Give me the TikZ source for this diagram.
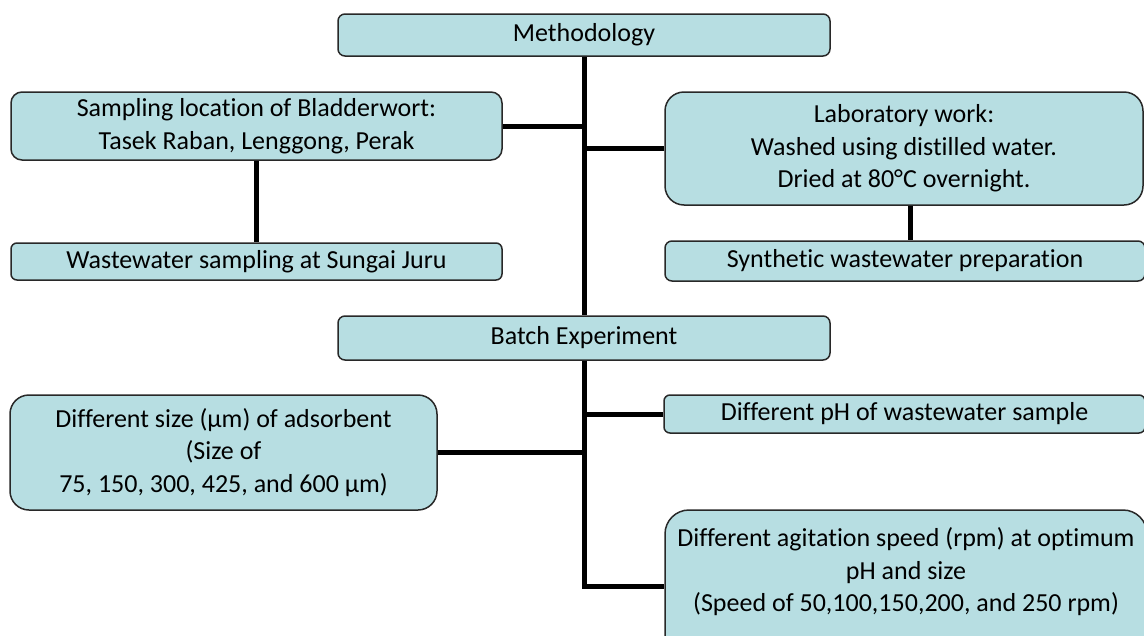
\documentclass[tikz,border=0pt]{standalone}
\usepackage{fontspec}
\setmainfont{Carlito}[Ligatures=CommonOff]
\definecolor{boxfill}{RGB}{183,222,226}
\definecolor{boxline}{RGB}{40,40,40}
\tikzset{
    stepbox/.style={draw=boxline, fill=boxfill, line width=1.5pt, rounded corners=#1,
        align=center, inner sep=0pt, font=\fontsize{26}{32.5}\selectfont},
    link/.style={line width=5pt, black}
}
\begin{document}
\begin{tikzpicture}[x=1pt, y=-1pt]
    \useasboundingbox (0, 0) rectangle (1144, 635);

    % Top level
    \node[stepbox=7pt, minimum width=492pt, minimum height=42pt] (meth) at (584, 35) {Methodology};

    % Field and laboratory branches
    \node[stepbox=11pt, minimum width=491pt, minimum height=68pt] (samp) at (256.5, 126)
        {Sampling location of Bladderwort:\\ Tasek Raban, Lenggong, Perak};
    \node[stepbox=6pt, minimum width=491pt, minimum height=37pt] (waste) at (256.5, 261.5)
        {Wastewater sampling at Sungai Juru};
    \node[stepbox=19pt, minimum width=478pt, minimum height=113pt] (lab) at (904, 148.5)
        {Laboratory work:\\ Washed using distilled water.\\ Dried at 80°C overnight.};
    \node[stepbox=7pt, minimum width=480pt, minimum height=40pt] (synth) at (905, 261)
        {Synthetic wastewater preparation};

    % Batch experiment
    \node[stepbox=7pt, minimum width=492pt, minimum height=44pt] (batch) at (584, 338) {Batch Experiment};
    \node[stepbox=19pt, minimum width=427pt, minimum height=115pt] (size) at (223.5, 452.5)
        {Different size (µm) of adsorbent\\ (Size of\\ 75, 150, 300, 425, and 600 µm)};
    \node[stepbox=6pt, minimum width=481pt, minimum height=38pt] (ph) at (904.5, 414)
        {Different pH of wastewater sample};
    \node[stepbox=24pt, minimum width=482pt, minimum height=152pt] (agit) at (906, 586)
        {Different agitation speed (rpm) at optimum\\ pH and size\\ (Speed of 50,100,150,200, and 250 rpm)\\ ~};

    % Connectors
    \draw[link] (meth.south) -- (batch.north);
    \draw[link] (batch.south) -- (batch.south |- agit.west) -- (agit.west);
    \draw[link] (samp.east) -- (samp.east -| meth.south);
    \draw[link] (lab.west) -- (lab.west -| meth.south);
    \draw[link] (samp.south) -- (waste.north);
    \draw[link] ([xshift=6pt]lab.south) -- ([xshift=6pt]lab.south |- synth.north);
    \draw[link] (size.east) -- (size.east -| batch.south);
    \draw[link] (ph.west) -- (ph.west -| batch.south);
\end{tikzpicture}
\end{document}
